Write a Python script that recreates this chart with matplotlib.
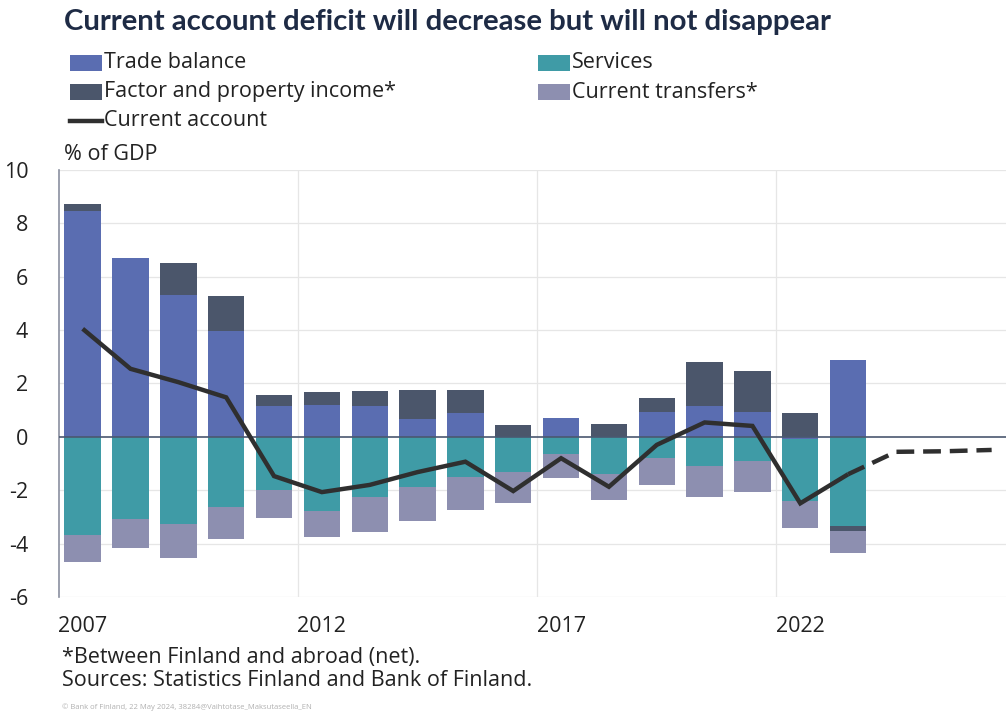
import matplotlib
matplotlib.use("Agg")
import matplotlib.pyplot as plt
from matplotlib.patches import Rectangle
from matplotlib.lines import Line2D
import numpy as np

plt.rcParams['font.family'] = ['Open Sans', 'DejaVu Sans']

years = list(range(2007, 2024))
trade = [8.47, 6.69, 5.31, 3.97, 1.17, 1.19, 1.14, 0.66, 0.91, 0.0, 0.70, 0.0, 0.95, 1.17, 0.93, -0.08, 2.88]
services = [-3.66, -3.09, -3.27, -2.62, -1.99, -2.78, -2.24, -1.87, -1.49, -1.32, -0.63, -1.39, -0.80, -1.08, -0.90, -2.34, -3.35]
factor = [0.24, 0.0, 1.21, 1.30, 0.40, 0.49, 0.59, 1.11, 0.84, 0.44, 0.0, 0.50, 0.52, 1.62, 1.54, 0.91, -0.19]
transfers = [-1.01, -1.07, -1.26, -1.19, -1.06, -0.99, -1.33, -1.29, -1.25, -1.17, -0.91, -0.99, -1.00, -1.19, -1.18, -0.99, -0.83]
ca_years = list(range(2007, 2024))
current_account = [4.05, 2.55, 2.05, 1.48, -1.47, -2.07, -1.80, -1.32, -0.93, -2.03, -0.80, -1.87, -0.30, 0.54, 0.41, -2.49, -1.40]
fc_years = [2023, 2024, 2025, 2026]
forecast = [-1.40, -0.56, -0.54, -0.49]
xtick_years = [2007, 2012, 2017, 2022]
yticks = [10, 8, 6, 4, 2, 0, -2, -4, -6]

series = [("Trade balance", trade, "#5a6db1"),
          ("Services", services, "#3f9ba6"),
          ("Factor and property income*", factor, "#4b566b"),
          ("Current transfers*", transfers, "#8d8fb0")]

fig = plt.figure(figsize=(10.06, 7.16), dpi=100)
ax = fig.add_axes([0.0584, 0.1662, 0.9416, 0.5964])

x = np.array(years, dtype=float)
pos_base = np.zeros(len(x))
neg_base = np.zeros(len(x))
for name, vals, col in series:
    v = np.array(vals)
    base = np.where(v >= 0, pos_base, neg_base)
    ax.bar(x, v, bottom=base, width=0.76, color=col, zorder=2, linewidth=0)
    pos_base = pos_base + np.where(v >= 0, v, 0)
    neg_base = neg_base + np.where(v < 0, v, 0)

ax.plot(ca_years, current_account, color="#2f2f2f", lw=3.2, zorder=4,
        solid_capstyle="butt", solid_joinstyle="miter")
ax.plot(fc_years, forecast, color="#2f2f2f", lw=3.2, zorder=4,
        linestyle=(0, (4, 2)), dash_capstyle="butt")

ax.set_xlim(2006.5, 2026.3)
ax.set_ylim(-6, 10)
ax.set_yticks(yticks)
ax.set_yticklabels([str(t) for t in yticks], fontsize=15.5, color="#222222")
ax.set_xticks(xtick_years)
ax.set_xticklabels([str(t) for t in xtick_years], fontsize=15.5, color="#222222")
ax.tick_params(axis="both", length=0)
ax.tick_params(axis="y", pad=22)
ax.tick_params(axis="x", pad=14)

for yv in yticks:
    if yv != 0:
        ax.axhline(yv, color="#e6e6e6", lw=0.9, zorder=0)
for xv in [2011.5, 2016.5, 2021.5]:
    ax.axvline(xv, color="#e6e6e6", lw=0.9, zorder=0)
ax.axhline(0, color="#4a5870", lw=1.2, zorder=3)

for s in ["top", "right", "bottom"]:
    ax.spines[s].set_visible(False)
ax.spines["left"].set_color("#8a8fa0")
ax.spines["left"].set_linewidth(1.2)

# Title
fig.text(0.064, 1 - 22 / 716, "Current account deficit will decrease but will not disappear",
         fontsize=21.2, fontweight="bold", color="#1e2b45", va="center", ha="left",
         family=["Lato", "DejaVu Sans"])

# Legend (manual)
def legend_patch(xf, yf, col, label):
    fig.patches.append(Rectangle((xf, yf - 0.0105), 0.032, 0.021, transform=fig.transFigure,
                                 facecolor=col, edgecolor="none", figure=fig))
    fig.text(xf + 0.034, yf, label, fontsize=15.5, color="#222222", va="center", ha="left")

row_y = [1 - 63 / 716, 1 - 92 / 716, 1 - 121 / 716]
legend_patch(0.0696, row_y[0], series[0][2], series[0][0])
legend_patch(0.535, row_y[0], series[1][2], series[1][0])
legend_patch(0.0696, row_y[1], series[2][2], series[2][0])
legend_patch(0.535, row_y[1], series[3][2], series[3][0])
fig.lines.append(Line2D([0.0696, 0.1016], [row_y[2], row_y[2]], transform=fig.transFigure,
                        color="#2f2f2f", lw=3.2, figure=fig))
fig.text(0.1036, row_y[2], "Current account", fontsize=15.5, color="#222222", va="center", ha="left")

fig.text(0.064, 1 - 155 / 716, "% of GDP", fontsize=15.5, color="#222222", va="center", ha="left")

fig.text(0.062, 1 - 657 / 716, "*Between Finland and abroad (net).", fontsize=15.5,
         color="#222222", va="center", ha="left")
fig.text(0.062, 1 - 681 / 716, "Sources: Statistics Finland and Bank of Finland.", fontsize=15.5,
         color="#222222", va="center", ha="left")
fig.text(0.062, 1 - 707 / 716, "\u00a9 Bank of Finland, 22 May 2024, 38284@Vaihtotase_Maksutaseella_EN",
         fontsize=5.5, color="#b0b0b0", va="center", ha="left")

fig.savefig("out.png", dpi=100, facecolor="white")
